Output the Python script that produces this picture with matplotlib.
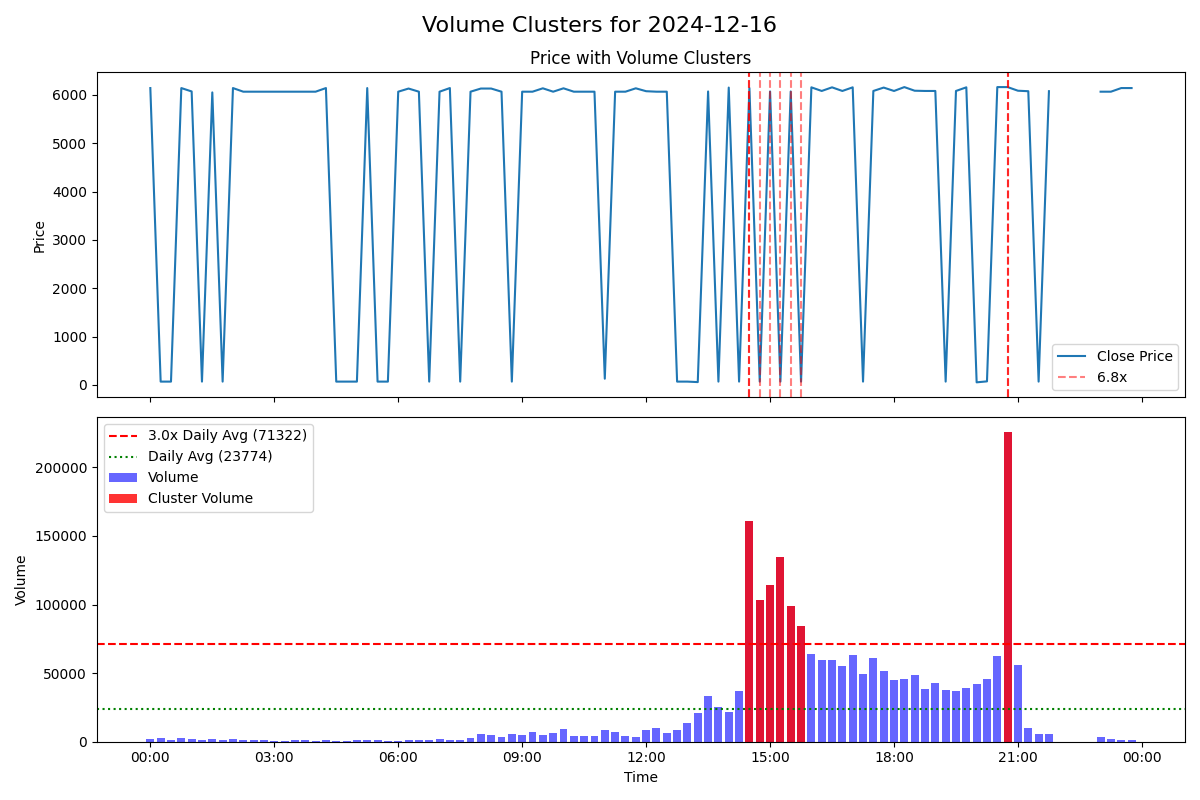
import numpy as np
import pandas as pd
import matplotlib
matplotlib.use("Agg")
import matplotlib.pyplot as plt
import matplotlib.dates as mdates

nan = np.nan

# 15-minute intervals for 2024-12-16
times = pd.date_range("2024-12-16 00:00", periods=96, freq="15min")

close_price = [
    6140, 70, 70, 6140, 6070, 70, 6050, 70,
    6140, 6065, 6065, 6065, 6065, 6065, 6065, 6065,
    6065, 6140, 70, 70, 70, 6140, 70, 70,
    6065, 6130, 6065, 70, 6065, 6140, 70, 6065,
    6130, 6130, 6065, 70, 6065, 6065, 6135, 6065,
    6135, 6065, 6065, 6065, 130, 6065, 6065, 6135,
    6075, 6065, 6065, 70, 70, 60, 6070, 70,
    6150, 70, 6140, 70, 6070, 70, 6070, 70,
    6155, 6080, 6155, 6080, 6155, 70, 6080, 6150,
    6080, 6160, 6085, 6080, 6080, 70, 6080, 6155,
    55, 75, 6160, 6160, 6085, 6075, 70, 6075,
    nan, nan, nan, nan, 6065, 6065, 6140, 6140,
]

volume = [
    2200, 2900, 1460, 2900, 2200, 1460, 2200, 1460,
    2200, 1460, 1460, 1460, 730, 730, 1460, 1460,
    730, 1460, 730, 730, 1460, 1460, 1460, 730,
    730, 1460, 1460, 1460, 2200, 1460, 1460, 2900,
    5800, 5100, 3650, 5800, 5100, 7300, 5100, 6600,
    9500, 4400, 4400, 4400, 8750, 7300, 4400, 3650,
    8500, 10000, 6100, 8300, 13400, 20700, 33200, 25100,
    21500, 36800, 161100, 103400, 114300, 134800, 99000, 84400,
    63900, 59500, 59500, 55100, 63100, 49200, 61000, 51400,
    44900, 45600, 48500, 38300, 42700, 37500, 36800, 39000,
    41900, 45600, 62400, 225500, 55800, 9750, 5360, 5360,
    nan, nan, nan, nan, 3170, 1700, 975, 975,
]

cluster_times = ["14:30", "14:45", "15:00", "15:15", "15:30", "15:45", "20:45"]
cluster_starts = ["14:30", "20:45"]
cluster_label = "6.8x"

daily_avg = 23774
threshold_mult = 3.0
threshold = 71322

df = pd.DataFrame({"close": close_price, "volume": volume}, index=times)
cl_idx = pd.to_datetime(["2024-12-16 " + t for t in cluster_times])
st_idx = pd.to_datetime(["2024-12-16 " + t for t in cluster_starts])

fig, (ax1, ax2) = plt.subplots(2, 1, figsize=(12, 8), dpi=100, sharex=True)
fig.suptitle("Volume Clusters for 2024-12-16", fontsize=16)

# Top: price
ax1.plot(df.index, df["close"], label="Close Price", color="#1f77b4")
for k, t in enumerate(cl_idx):
    ax1.axvline(t, color="red", linestyle="--", alpha=0.5,
                label=cluster_label if k == 0 else None)
for t in st_idx:
    ax1.axvline(t, color="red", linestyle="--", alpha=0.7)
ax1.set_title("Price with Volume Clusters")
ax1.set_ylabel("Price")
ax1.legend(loc="lower right")

# Bottom: volume
w = 0.008
ax2.bar(df.index, df["volume"], width=w, color="blue", alpha=0.6, label="Volume")
ax2.bar(cl_idx, df.loc[cl_idx, "volume"], width=w, color="red", alpha=0.8,
        label="Cluster Volume")
ax2.axhline(threshold, color="red", linestyle="--",
            label=f"{threshold_mult}x Daily Avg ({threshold})")
ax2.axhline(daily_avg, color="green", linestyle=":",
            label=f"Daily Avg ({daily_avg})")
ax2.set_ylabel("Volume")
ax2.set_xlabel("Time")
ax2.legend(loc="upper left")

ax2.xaxis.set_major_locator(mdates.HourLocator(byhour=range(0, 24, 3)))
ax2.xaxis.set_major_formatter(mdates.DateFormatter("%H:%M"))

plt.tight_layout()
plt.savefig("out.png", dpi=100)
